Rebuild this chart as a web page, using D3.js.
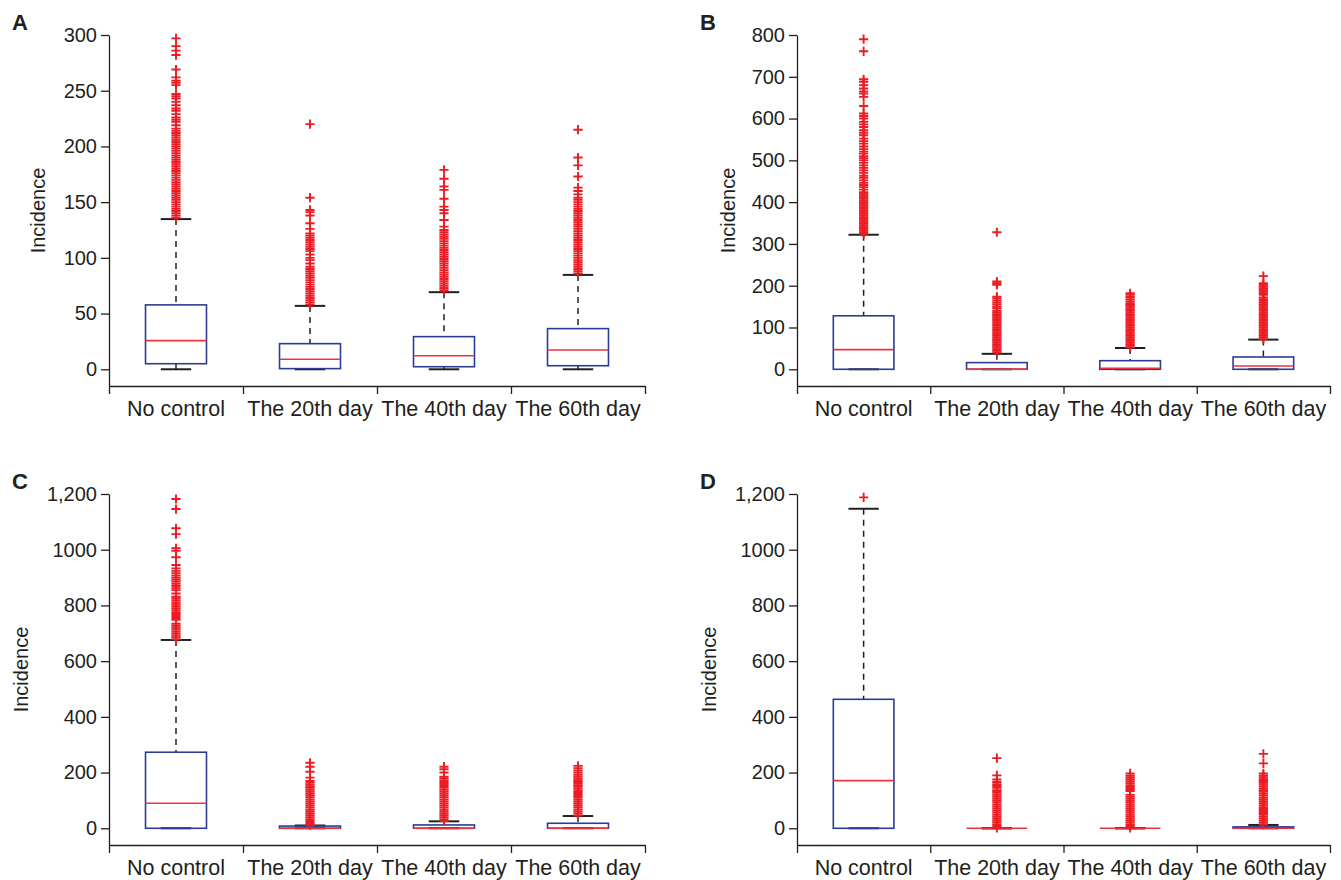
<!DOCTYPE html>
<html>
<head>
<meta charset="utf-8">
<script src="https://cdn.jsdelivr.net/npm/d3@7"></script>
<style>
  body { margin: 0; background: #fff; }
  svg { font-family: "Liberation Sans", Arial, sans-serif; }
  .axis path, .axis line { stroke: #231f20; stroke-width: 1.3; }
  .axis text { fill: #231f20; }
</style>
</head>
<body>
<div id="chart"></div>
<script>
const categories = ["No control", "The 20th day", "The 40th day", "The 60th day"];

// y ticks per panel
const ticksA = [0, 50, 100, 150, 200, 250, 300];
const ticksB = [0, 100, 200, 300, 400, 500, 600, 700, 800];
const ticksCD = [0, 200, 400, 600, 800, 1000, 1200];
const tickLabelsCD = ["0", "200", "400", "600", "800", "1000", "1,200"];

// panel A stats
const lowA = [0, 0, 0, 0];
const q1A = [5, 0.6, 2.3, 3.2];
const medA = [25.7, 9, 12.2, 17.3];
const q3A = [57.8, 23, 29.3, 36.5];
const highA = [134.8, 56.9, 69.2, 84.7];
const outA = [
  [136,138,140,142,144,146,148,150,152,154,156,158,160,162,164,166,168,170,172,174,176,178,180,182,184,186,188,190,192,194,196,198,200,202,204,206,208,210,212,214,216,219,222,224,226,229,232,234,237,240,243,245,247,255,257,259,262,269,282,286,290,297],
  [58,60,62,64,66,68,70,72,74,76,78,80,82,84,86,88,90,92,95,98,100,103,106,108,110,112,114,116,118,120,122,126,131,138,141,143,154,220],
  [71,73,75,77,79,81,83,85,87,89,91,93,95,97,99,101,103,105,107,109,111,113,115,117,119,121,123,125,128,134,140,143,146,153,161,164,171,179],
  [86,88,90,92,94,96,98,100,102,104,106,108,110,112,114,116,118,120,122,124,126,128,130,132,134,136,138,140,142,144,146,148,150,152,154,157,160,163,173,183,190,215]
];

// panel B stats
const lowB = [0, 0, 0, 0];
const q1B = [0, 0, 0, 0];
const medB = [47, 0.5, 2.4, 8];
const q3B = [128, 16, 20.6, 29.4];
const highB = [322, 37, 51, 71];
const outB = [
  [324,328,332,336,340,344,348,352,356,360,364,368,372,376,380,384,388,392,396,400,404,408,412,416,420,424,430,436,441,446,452,458,463,470,476,482,488,494,500,505,510,516,521,527,533,540,546,552,560,566,572,580,586,592,600,606,612,630,652,660,665,672,680,688,694,761,790],
  [40,44,48,52,56,60,64,68,72,76,80,84,88,92,96,100,104,108,112,116,120,124,128,132,136,140,146,150,155,160,165,170,174,202,206,210,328],
  [52,56,60,64,68,72,76,80,84,88,92,96,100,104,108,112,116,120,124,128,132,136,140,144,148,152,154,158,163,168,173,178,182],
  [72,76,80,84,88,92,96,100,104,108,112,116,120,124,128,132,136,140,144,148,152,156,160,164,168,172,178,182,186,190,194,198,202,206,223]
];

// panel C stats
const lowC = [0, 0, 0, 0];
const q1C = [0, 0, 0, 0];
const medC = [90, 0, 0, 0];
const q3C = [273, 8, 12, 18];
const highC = [676, 10, 25, 44];
const outC = [
  [678,685,692,699,706,713,720,727,734,748,755,762,769,776,783,790,797,804,811,818,825,831,843,855,862,870,878,886,893,900,908,916,924,933,945,973,996,1005,1056,1077,1146,1182],
  [12,19,26,33,40,47,54,61,68,75,82,89,96,103,110,117,124,131,138,145,149,156,163,170,182,203,221,235],
  [26,33,40,47,54,61,68,75,82,89,96,103,110,117,124,131,138,145,152,159,166,173,180,185,200,212,221],
  [46,53,60,67,74,81,88,95,102,109,116,123,130,137,144,151,155,161,166,172,178,185,192,200,208,216,224]
];

// panel D stats
const lowD = [0, 0, 0, 0];
const q1D = [0, 0, 0, 0];
const medD = [171, 0, 0, 0];
const q3D = [463, 0, 0, 5];
const highD = [1147, 0, 0, 12];
const outD = [
  [1188],
  [1,8,15,22,29,36,43,50,57,64,71,78,85,92,99,106,113,120,127,134,137,145,152,158,166,175,190,252],
  [1,8,15,22,29,36,43,50,57,64,71,78,85,92,99,106,113,120,134,141,148,155,162,169,176,183,190,197],
  [13,20,27,34,41,48,55,62,69,76,83,90,97,104,111,118,125,132,137,143,150,157,163,170,176,183,190,197,233,267]
];

const plotH = 351;
const blue = "#2b3c96";
const red = "#ed1c24";
const dark = "#231f20";

const svg = d3.select("#chart").append("svg")
  .attr("width", 1341)
  .attr("height", 880);

function drawPanel(p) {
  const g = svg.append("g").attr("transform", `translate(${p.left}, ${p.top})`);

  const x = d3.scaleBand().domain(categories).range([0, p.width]);
  const xEdges = d3.scaleLinear().domain([0, categories.length]).range([0, p.width]);
  const y = d3.scaleLinear().domain(p.yDomain).range([plotH, 0]);
  const boxW = x.bandwidth() * 0.455;

  // y axis
  g.append("g")
    .attr("class", "axis")
    .call(d3.axisLeft(y).tickValues(p.ticks).tickSize(8).tickSizeOuter(0).tickPadding(4)
      .tickFormat((d, i) => p.tickLabels ? p.tickLabels[i] : d))
    .call((a) => a.selectAll("text").style("font-size", "20px"));

  // x axis: tick marks at band edges
  g.append("g")
    .attr("class", "axis")
    .attr("transform", `translate(0, ${plotH})`)
    .call(d3.axisBottom(xEdges).tickValues(d3.range(categories.length + 1)).tickSize(8).tickSizeOuter(0).tickFormat(""));

  // x axis labels
  g.append("g")
    .attr("class", "axis")
    .attr("transform", `translate(0, ${plotH})`)
    .call(d3.axisBottom(x).tickSize(0).tickPadding(15))
    .call((a) => a.select(".domain").remove())
    .call((a) => a.selectAll("text").style("font-size", "21.5px"));

  // y label
  g.append("text")
    .attr("transform", "rotate(-90)")
    .attr("x", -plotH / 2)
    .attr("y", -p.labelOffset)
    .attr("text-anchor", "middle")
    .style("font-size", "20px")
    .attr("fill", dark)
    .text("Incidence");

  // panel letter
  svg.append("text")
    .attr("x", p.letterX)
    .attr("y", p.letterY)
    .style("font-size", "22px")
    .style("font-weight", "bold")
    .attr("fill", dark)
    .text(p.letter);

  categories.forEach((c, i) => {
    const cx = x(c) + x.bandwidth() / 2;
    const bg = g.append("g");

    // whiskers
    bg.append("line")
      .attr("x1", cx).attr("x2", cx)
      .attr("y1", y(p.high[i])).attr("y2", y(p.q3[i]))
      .attr("stroke", dark).attr("stroke-width", 1.5).attr("stroke-dasharray", "6,5");
    bg.append("line")
      .attr("x1", cx).attr("x2", cx)
      .attr("y1", y(p.q1[i])).attr("y2", y(p.low[i]))
      .attr("stroke", dark).attr("stroke-width", 1.5).attr("stroke-dasharray", "6,5");

    // caps
    [p.high[i], p.low[i]].forEach((v) => {
      bg.append("line")
        .attr("x1", cx - boxW / 4).attr("x2", cx + boxW / 4)
        .attr("y1", y(v)).attr("y2", y(v))
        .attr("stroke", dark).attr("stroke-width", 2);
    });

    // box
    bg.append("rect")
      .attr("x", cx - boxW / 2)
      .attr("y", y(p.q3[i]))
      .attr("width", boxW)
      .attr("height", y(p.q1[i]) - y(p.q3[i]))
      .attr("fill", "none")
      .attr("stroke", blue)
      .attr("stroke-width", 1.6);

    // median
    bg.append("line")
      .attr("x1", cx - boxW / 2).attr("x2", cx + boxW / 2)
      .attr("y1", y(p.med[i])).attr("y2", y(p.med[i]))
      .attr("stroke", "#ee3340").attr("stroke-width", 1.6);

    // outliers
    bg.selectAll("path.out")
      .data(p.out[i])
      .enter()
      .append("path")
      .attr("class", "out")
      .attr("d", (d) => `M${cx - 4.6},${y(d)}H${cx + 4.6}M${cx},${y(d) - 4.6}V${y(d) + 4.6}`)
      .attr("stroke", red)
      .attr("stroke-width", 1.9)
      .attr("fill", "none");
  });
}

drawPanel({ letter: "A", letterX: 12, letterY: 30, left: 109, top: 35, width: 536, yDomain: [-15, 300],
  ticks: ticksA, labelOffset: 64, low: lowA, q1: q1A, med: medA, q3: q3A, high: highA, out: outA });
drawPanel({ letter: "B", letterX: 700, letterY: 30, left: 797, top: 35, width: 533, yDomain: [-40, 800],
  ticks: ticksB, labelOffset: 62, low: lowB, q1: q1B, med: medB, q3: q3B, high: highB, out: outB });
drawPanel({ letter: "C", letterX: 12, letterY: 489, left: 109, top: 494, width: 536, yDomain: [-60, 1200],
  ticks: ticksCD, tickLabels: tickLabelsCD, labelOffset: 81, low: lowC, q1: q1C, med: medC, q3: q3C, high: highC, out: outC });
drawPanel({ letter: "D", letterX: 700, letterY: 489, left: 797, top: 494, width: 533, yDomain: [-60, 1200],
  ticks: ticksCD, tickLabels: tickLabelsCD, labelOffset: 81, low: lowD, q1: q1D, med: medD, q3: q3D, high: highD, out: outD });
</script>
</body>
</html>
